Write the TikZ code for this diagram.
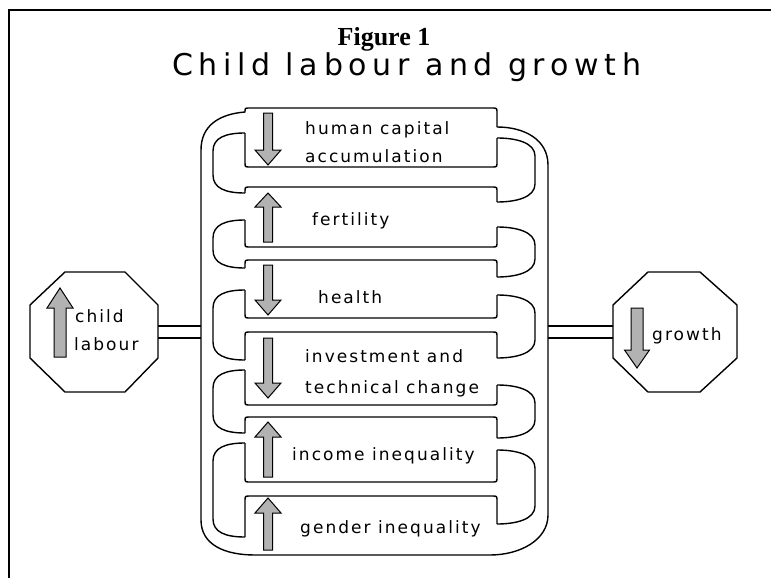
\documentclass[tikz,border=0pt]{standalone}
\usepackage{fontspec}
\setmainfont{DejaVu Sans}
\newfontfamily\serifbold{Liberation Serif}
\newfontfamily\labfont[LetterSpace=12]{DejaVu Sans}
\newfontfamily\ttlfont[LetterSpace=19]{DejaVu Sans}
\tikzset{
  ln/.style={line width=1.4pt, line join=round},
  boxtxt/.style={font=\labfont\fontsize{17}{17}\selectfont, anchor=base west, inner sep=0pt},
  arr/.style={draw=black, line width=1pt, fill=gray!60, line join=miter},
}
\newcommand\vertarr[6]{\draw[arr] ({#1-#5},#2) -- ({#1+#5},#2) -- ({#1+#5},#3) -- ({#1+#6},#3) -- (#1,#4) -- ({#1-#6},#3) -- ({#1-#5},#3) -- cycle;}
% box upper part: top y, left attach, right attach
\newcommand\boxtop[3]{\draw[ln] (245,#2) -- (245,{#1+5}) .. controls (245,#1) .. (250,#1) -- (492,#1) .. controls (497,#1) .. (497,{#1+5}) -- (497,#3);}
\newcommand\boxbot[3]{\draw[ln] (245,#2) -- (245,{#1-5}) .. controls (245,#1) .. (250,#1) -- (492,#1) .. controls (497,#1) .. (497,{#1-5}) -- (497,#3);}
% inner pipe: left from L to U ; right from L to U
\newcommand\inleft[2]{\draw[ln] (245,#1) .. controls (225,#1) and (213,{#1+5}) .. (213,{#1+18}) -- (213,{#2-18}) .. controls (213,{#2-5}) and (225,#2) .. (245,#2);}
\newcommand\inright[2]{\draw[ln] (497,#1) .. controls (517,#1) and (535,{#1+5}) .. (535,{#1+18}) -- (535,{#2-18}) .. controls (535,{#2-5}) and (517,#2) .. (497,#2);}
\begin{document}
\begin{tikzpicture}[x=1pt,y=-1pt]
\useasboundingbox (0,0) rectangle (771,578);
\fill[white] (0,0) rectangle (771,578);
% frame
\draw[line width=2pt] (9,578) -- (9,10) -- (771,10);
% title
\node[anchor=base, inner sep=0pt, font=\serifbold\bfseries\fontsize{26}{26}\selectfont] (fig) at (384,46) {Figure 1};
\node[anchor=base west, inner sep=0pt, font=\ttlfont\fontsize{30}{30}\selectfont] (title) at (172,76) {Child labour and growth};
% outer loop
\draw[ln] (497,127) -- (497,113) .. controls (497,108) .. (492,108) -- (250,108) .. controls (245,108) .. (245,112)
  .. controls (220,114) and (201,125) .. (201,150) -- (201,520) .. controls (201,545) and (225,555) .. (255,555)
  -- (490,555) .. controls (520,555) and (548,540) .. (548,515) -- (548,165) .. controls (548,140) and (525,127) .. (497,127);
% boxes
\boxbot{167}{133}{138}
\boxtop{187}{193}{202}
\boxbot{247}{220}{227}
\boxtop{260}{268}{277}
\boxbot{318}{290}{295}
\boxtop{332}{360}{358}
\boxbot{405}{370}{385}
\boxtop{417}{433}{438}
\boxbot{482}{443}{450}
\boxtop{496}{537}{524}
% inner pipe
\inleft{133}{193}
\inleft{220}{268}
\inleft{290}{360}
\inleft{370}{433}
\inleft{443}{537}
\inright{138}{202}
\inright{227}{277}
\inright{295}{358}
\inright{385}{438}
\inright{450}{524}
% octagons
\draw[ln] (65,272) -- (125,272) -- (158,305) -- (158,358) -- (125,392) -- (65,392) -- (30,358) -- (30,305) -- cycle;
\draw[ln] (648,272) -- (700,272) -- (737,305) -- (737,358) -- (700,392) -- (648,392) -- (613,358) -- (613,305) -- cycle;
\coordinate (clE) at (158,332);
\coordinate (outL) at (201,332);
\coordinate (outR) at (548,332);
\coordinate (grW) at (613,332);
\draw[ln] ([yshift=6pt]clE) -- ([yshift=6pt]outL);
\draw[ln] ([yshift=-6pt]clE) -- ([yshift=-6pt]outL);
\draw[ln] ([yshift=6pt]outR) -- ([yshift=6pt]grW);
\draw[ln] ([yshift=-6pt]outR) -- ([yshift=-6pt]grW);
% arrows
\vertarr{268}{113}{150}{165}{4.5}{13}
\vertarr{268}{242}{207}{193}{4.5}{13}
\vertarr{268}{265}{300}{315}{4.5}{13}
\vertarr{268}{338}{383}{398}{4.5}{13}
\vertarr{268}{477}{437}{422}{4.5}{13}
\vertarr{268}{550}{513}{498}{4.5}{13}
\vertarr{60}{357}{308}{288}{6}{13}
\vertarr{637}{308}{350}{368}{6}{12.5}
% texts
\node[boxtxt] (hc1) at (305,134) {human capital};
\node[boxtxt] (hc2) at (305,162) {accumulation};
\node[boxtxt] (fe) at (312,225) {fertility};
\node[boxtxt] (he) at (318,303) {health};
\node[boxtxt] (in1) at (305,362) {investment and};
\node[boxtxt] (in2) at (305,393) {technical change};
\node[boxtxt] (ii) at (292,460) {income inequality};
\node[boxtxt] (gi) at (300,533) {gender inequality};
\node[boxtxt] (cl1) at (75,322) {child};
\node[boxtxt] (cl2) at (74,350) {labour};
\node[boxtxt] (gr) at (652,340) {growth};
\end{tikzpicture}
\end{document}
